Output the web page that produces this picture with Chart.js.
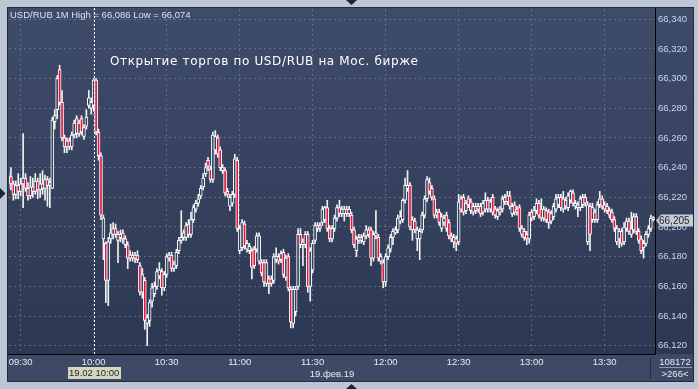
<!DOCTYPE html>
<html>
<head>
<meta charset="utf-8">
<script src="https://cdn.jsdelivr.net/npm/chart.js@4.4.0/dist/chart.umd.min.js"></script>
<style>
  html, body { margin: 0; padding: 0; background: #bcc6d5; overflow: hidden; }
  canvas { display: block; }
</style>
</head>
<body>
<canvas id="chart" width="698" height="389"></canvas>
<script>
// 1-minute candles, first one at 09:25 (minute -5 from 09:30)
const firstMinute = -5;

const opens = [
  66.230,66.234,66.229,66.222,66.228,66.224,66.229,66.233,66.226,66.221,
  66.227,66.224,66.231,66.225,66.229,66.226,66.232,66.228,66.226,66.271,
  66.279,66.306,66.284,66.260,66.254,66.258,66.254,66.262,66.273,66.263,
  66.273,66.261,66.268,66.282,66.280,66.282,66.299,66.264,66.248,66.192,
  66.189,66.164,66.192,66.195,66.199,66.191,66.193,66.196,66.188,66.188,
  66.179,66.181,66.179,66.181,66.174,66.156,66.164,66.135,66.137,66.150,
  66.155,66.160,66.167,66.170,66.159,66.168,66.179,66.181,66.172,66.174,
  66.184,66.191,66.193,66.193,66.202,66.195,66.205,66.212,66.216,66.221,
  66.227,66.236,66.245,66.239,66.232,66.252,66.260,66.252,66.238,66.238,
  66.224,66.214,66.216,66.222,66.245,66.184,66.186,66.202,66.185,66.184,
  66.184,66.185,66.185,66.177,66.176,66.176,66.162,66.165,66.165,66.164,
  66.178,66.180,66.178,66.183,66.166,66.180,66.158,66.135,66.143,66.160,
  66.195,66.188,66.188,66.195,66.160,66.171,66.191,66.199,66.201,66.203,
  66.205,66.213,66.199,66.192,66.199,66.206,66.213,66.209,66.209,66.212,
  66.209,66.208,66.198,66.184,66.191,66.193,66.190,66.194,66.198,66.198,
  66.179,66.194,66.193,66.177,66.176,66.163,66.180,66.185,66.193,66.196,
  66.198,66.204,66.205,66.218,66.226,66.228,66.198,66.204,66.192,66.192,
  66.198,66.208,66.219,66.230,66.226,66.219,66.208,66.210,66.199,66.203,
  66.208,66.203,66.194,66.190,66.192,66.190,66.212,66.220,66.211,66.219,
  66.217,66.210,66.214,66.212,66.214,66.210,66.212,66.218,66.212,66.220,
  66.212,66.207,66.212,66.212,66.220,66.217,66.221,66.209,66.215,66.212,
  66.213,66.195,66.197,66.195,66.192,66.210,66.207,66.211,66.216,66.212,
  66.206,66.211,66.210,66.204,66.207,66.212,66.215,66.220,66.212,66.218,
  66.213,66.218,66.223,66.214,66.213,66.213,66.215,66.220,66.190,66.214,
  66.205,66.210,66.205,66.215,66.219,66.212,66.214,66.211,66.210,66.205,
  66.190,66.192,66.197,66.190,66.199,66.204,66.195,66.198,66.207,66.197,
  66.192,66.186,66.189,66.195,66.199,66.205
];
const highs = [
  66.237,66.240,66.231,66.231,66.236,66.233,66.263,66.236,66.230,66.234,
  66.233,66.236,66.233,66.236,66.238,66.235,66.234,66.233,66.274,66.279,
  66.302,66.309,66.292,66.262,66.260,66.260,66.264,66.272,66.275,66.272,
  66.275,66.269,66.279,66.292,66.287,66.300,66.300,66.266,66.250,66.208,
  66.190,66.193,66.202,66.203,66.202,66.197,66.198,66.198,66.194,66.190,
  66.184,66.183,66.183,66.184,66.176,66.172,66.166,66.141,66.151,66.162,
  66.163,66.172,66.176,66.172,66.170,66.182,66.183,66.183,66.177,66.185,
  66.193,66.211,66.198,66.203,66.205,66.210,66.215,66.218,66.222,66.228,
  66.236,66.243,66.247,66.241,66.264,66.265,66.262,66.254,66.242,66.240,
  66.226,66.222,66.224,66.249,66.247,66.201,66.205,66.204,66.191,66.189,
  66.186,66.187,66.196,66.196,66.178,66.178,66.178,66.167,66.167,66.182,
  66.186,66.182,66.184,66.185,66.181,66.182,66.160,66.160,66.160,66.199,
  66.199,66.192,66.197,66.197,66.186,66.191,66.203,66.203,66.203,66.214,
  66.214,66.218,66.201,66.201,66.208,66.215,66.218,66.214,66.214,66.214,
  66.214,66.210,66.200,66.194,66.195,66.195,66.196,66.201,66.200,66.200,
  66.197,66.211,66.195,66.182,66.178,66.182,66.188,66.195,66.199,66.200,
  66.208,66.211,66.219,66.233,66.238,66.230,66.207,66.206,66.200,66.199,
  66.210,66.221,66.234,66.233,66.228,66.221,66.212,66.212,66.209,66.208,
  66.210,66.205,66.196,66.195,66.194,66.222,66.221,66.222,66.218,66.221,
  66.219,66.216,66.216,66.216,66.216,66.218,66.223,66.220,66.219,66.222,
  66.214,66.213,66.214,66.221,66.222,66.224,66.224,66.216,66.217,66.214,
  66.215,66.201,66.199,66.197,66.210,66.212,66.214,66.219,66.218,66.219,
  66.214,66.213,66.212,66.211,66.216,66.222,66.222,66.222,66.224,66.220,
  66.223,66.225,66.225,66.218,66.217,66.221,66.222,66.222,66.217,66.216,
  66.216,66.212,66.217,66.224,66.221,66.217,66.216,66.213,66.212,66.207,
  66.201,66.199,66.199,66.203,66.206,66.206,66.210,66.209,66.209,66.199,
  66.194,66.191,66.197,66.201,66.208,66.207
];
const lows = [
  66.226,66.225,66.218,66.219,66.219,66.221,66.213,66.224,66.218,66.219,
  66.220,66.222,66.219,66.220,66.222,66.218,66.214,66.213,66.226,66.266,
  66.273,66.282,66.258,66.250,66.250,66.252,66.252,66.260,66.260,66.261,
  66.262,66.259,66.266,66.280,66.276,66.278,66.262,66.245,66.205,66.178,
  66.149,66.147,66.189,66.192,66.193,66.176,66.190,66.189,66.186,66.172,
  66.177,66.177,66.176,66.176,66.154,66.152,66.131,66.120,66.133,66.146,
  66.153,66.158,66.165,66.154,66.157,66.166,66.177,66.170,66.170,66.172,
  66.182,66.189,66.191,66.191,66.193,66.193,66.203,66.210,66.214,66.219,
  66.225,66.234,66.238,66.230,66.230,66.249,66.247,66.238,66.236,66.221,
  66.220,66.211,66.214,66.220,66.197,66.182,66.184,66.185,66.183,66.182,
  66.165,66.172,66.183,66.175,66.167,66.160,66.160,66.155,66.160,66.162,
  66.176,66.175,66.176,66.166,66.164,66.157,66.132,66.132,66.140,66.158,
  66.186,66.174,66.186,66.156,66.150,66.169,66.189,66.197,66.197,66.201,
  66.203,66.197,66.190,66.190,66.197,66.204,66.207,66.207,66.204,66.207,
  66.207,66.196,66.186,66.180,66.189,66.189,66.188,66.192,66.193,66.174,
  66.177,66.192,66.177,66.175,66.159,66.160,66.178,66.183,66.188,66.195,
  66.196,66.202,66.203,66.216,66.224,66.198,66.191,66.196,66.184,66.178,
  66.196,66.206,66.217,66.222,66.218,66.206,66.206,66.201,66.197,66.201,
  66.197,66.192,66.190,66.186,66.184,66.188,66.210,66.208,66.209,66.213,
  66.209,66.208,66.209,66.210,66.207,66.208,66.210,66.210,66.210,66.208,
  66.206,66.205,66.208,66.210,66.215,66.215,66.212,66.207,66.208,66.208,
  66.197,66.193,66.191,66.188,66.189,66.204,66.205,66.209,66.206,66.204,
  66.204,66.203,66.199,66.202,66.205,66.210,66.213,66.211,66.210,66.212,
  66.211,66.216,66.214,66.212,66.207,66.211,66.213,66.214,66.188,66.184,
  66.203,66.203,66.203,66.213,66.212,66.210,66.209,66.206,66.203,66.197,
  66.188,66.186,66.187,66.188,66.197,66.195,66.193,66.196,66.195,66.189,
  66.182,66.179,66.187,66.193,66.197,66.204
];
const closes = [
  66.234,66.229,66.222,66.228,66.224,66.229,66.233,66.226,66.221,66.227,
  66.224,66.231,66.225,66.229,66.226,66.232,66.228,66.230,66.272,66.275,
  66.300,66.284,66.260,66.254,66.258,66.254,66.262,66.270,66.263,66.270,
  66.264,66.267,66.274,66.287,66.284,66.299,66.264,66.248,66.208,66.206,
  66.164,66.190,66.196,66.199,66.195,66.195,66.195,66.192,66.192,66.179,
  66.181,66.179,66.181,66.178,66.156,66.168,66.137,66.139,66.149,66.159,
  66.160,66.170,66.171,66.159,66.168,66.180,66.181,66.172,66.175,66.183,
  66.191,66.193,66.196,66.201,66.195,66.205,66.213,66.216,66.219,66.226,
  66.233,66.240,66.241,66.232,66.262,66.261,66.249,66.240,66.240,66.223,
  66.222,66.220,66.222,66.246,66.199,66.199,66.203,66.187,66.189,66.187,
  66.173,66.174,66.194,66.194,66.169,66.163,66.176,66.162,66.162,66.180,
  66.180,66.177,66.182,66.168,66.179,66.159,66.136,66.158,66.158,66.195,
  66.188,66.190,66.195,66.160,66.184,66.189,66.201,66.201,66.199,66.212,
  66.213,66.199,66.192,66.199,66.206,66.213,66.209,66.212,66.212,66.209,
  66.212,66.198,66.188,66.192,66.193,66.191,66.194,66.198,66.195,66.179,
  66.195,66.196,66.179,66.180,66.163,66.180,66.186,66.193,66.197,66.198,
  66.206,66.207,66.218,66.228,66.228,66.200,66.205,66.198,66.198,66.197,
  66.208,66.219,66.232,66.224,66.220,66.208,66.210,66.203,66.207,66.206,
  66.199,66.194,66.192,66.193,66.189,66.217,66.219,66.210,66.216,66.215,
  66.211,66.214,66.211,66.214,66.209,66.216,66.218,66.212,66.217,66.210,
  66.208,66.211,66.210,66.219,66.217,66.221,66.214,66.214,66.210,66.210,
  66.199,66.199,66.193,66.192,66.208,66.206,66.211,66.216,66.208,66.206,
  66.212,66.205,66.203,66.209,66.214,66.219,66.220,66.213,66.219,66.214,
  66.221,66.224,66.216,66.216,66.215,66.219,66.220,66.216,66.215,66.195,
  66.213,66.205,66.215,66.219,66.214,66.215,66.211,66.208,66.205,66.199,
  66.199,66.197,66.189,66.200,66.204,66.197,66.199,66.207,66.197,66.191,
  66.184,66.189,66.195,66.199,66.206,66.205
];

const yTicks = [66.12, 66.14, 66.16, 66.18, 66.20, 66.22, 66.24, 66.26, 66.28, 66.30, 66.32, 66.34];
const xTickMinutes = [0, 30, 60, 90, 120, 150, 180, 210, 240];
const xTickLabels = ['09:30', '10:00', '10:30', '11:00', '11:30', '12:00', '12:30', '13:00', '13:30'];

const titleText = 'USD/RUB 1M High = 66,086 Low = 66,074';
const noteText = 'Открытие торгов по USD/RUB на Мос. бирже';
const cursorMinute = 30;
const cursorLabel = '19.02 10:00';
const dateLabel = '19.фев.19';
const volumeLabel = '108172';
const countLabel = '>266<';

const minutes = opens.map((_, i) => firstMinute + i);
const fmt = v => v.toFixed(3).replace('.', ',');

const SMALL = '9.5px "Liberation Sans", Arial, sans-serif';

const framePlugin = {
  id: 'frame',
  beforeDraw(chart) {
    const ctx = chart.ctx;
    const a = chart.chartArea;
    ctx.save();
    ctx.fillStyle = '#bcc6d5';
    ctx.fillRect(0, 0, 698, 389);
    // main panel
    const g = ctx.createLinearGradient(0, 8, 0, a.bottom);
    g.addColorStop(0, '#3f4c69');
    g.addColorStop(1, '#2c3753');
    ctx.fillStyle = g;
    ctx.fillRect(8, 8, 685, a.bottom - 8);
    ctx.fillStyle = '#3d4965';
    ctx.fillRect(8, a.bottom, 685, 381 - a.bottom);
    ctx.strokeStyle = '#222b3e';
    ctx.lineWidth = 1;
    ctx.strokeRect(7.5, 7.5, 686, 374);
    // small frame arrows
    ctx.fillStyle = '#1c2434';
    ctx.beginPath(); ctx.moveTo(346, 0); ctx.lineTo(357, 0); ctx.lineTo(351.5, 5); ctx.fill();
    ctx.beginPath(); ctx.moveTo(0, 188); ctx.lineTo(0, 199); ctx.lineTo(5.5, 193.5); ctx.fill();
    ctx.beginPath(); ctx.moveTo(346, 389); ctx.lineTo(357, 389); ctx.lineTo(351.5, 384); ctx.fill();
    ctx.restore();
  },
  afterDatasetsDraw(chart) {
    const ctx = chart.ctx;
    const a = chart.chartArea;
    const x = Math.round(chart.scales.x.getPixelForValue(cursorMinute)) + 0.5;
    ctx.save();
    ctx.strokeStyle = '#ffffff';
    ctx.lineWidth = 1;
    ctx.setLineDash([2, 2]);
    ctx.beginPath(); ctx.moveTo(x, 8); ctx.lineTo(x, a.bottom); ctx.stroke();
    ctx.restore();
  },
  afterDraw(chart) {
    const ctx = chart.ctx;
    const a = chart.chartArea;
    const ys = chart.scales.y;
    const xs = chart.scales.x;
    ctx.save();
    // axis lines
    ctx.strokeStyle = '#000000';
    ctx.lineWidth = 1;
    ctx.beginPath();
    ctx.moveTo(a.right + 0.5, 8); ctx.lineTo(a.right + 0.5, a.bottom + 0.5);
    ctx.moveTo(8, a.bottom + 0.5); ctx.lineTo(a.right + 0.5, a.bottom + 0.5);
    ctx.stroke();
    ctx.strokeStyle = '#262e40';
    ctx.beginPath(); ctx.moveTo(650.5, 357); ctx.lineTo(650.5, 379); ctx.stroke();

    // title
    ctx.font = SMALL;
    ctx.fillStyle = '#dbe2ee';
    ctx.textBaseline = 'middle';
    ctx.textAlign = 'left';
    ctx.fillText(titleText, 10, 15);

    // annotation
    ctx.font = '12px "DejaVu Sans", sans-serif';
    const w = ctx.measureText(noteText).width;
    ctx.letterSpacing = ((308 - w) / (noteText.length - 1)).toFixed(2) + 'px';
    ctx.fillStyle = '#ffffff';
    ctx.fillText(noteText, 110, 62);
    ctx.letterSpacing = '0px';

    // current price box
    const last = closes[closes.length - 1];
    const py = Math.round(ys.getPixelForValue(last)) + 0.5;
    ctx.fillStyle = '#c6cbd4';
    ctx.strokeStyle = '#e8ecf2';
    ctx.beginPath();
    ctx.moveTo(a.right + 1, py);
    ctx.lineTo(a.right + 6, py - 6);
    ctx.lineTo(693, py - 6);
    ctx.lineTo(693, py + 6);
    ctx.lineTo(a.right + 6, py + 6);
    ctx.closePath();
    ctx.fill();
    ctx.font = '10px "Liberation Sans", Arial, sans-serif';
    ctx.fillStyle = '#1c2333';
    ctx.fillText(fmt(last), a.right + 4, py + 0.5);

    // cursor date box
    const cx = xs.getPixelForValue(cursorMinute);
    ctx.font = SMALL;
    ctx.fillStyle = '#d6d6bf';
    ctx.fillRect(Math.round(cx) - 26, 367, 53, 12);
    ctx.fillStyle = '#1c2333';
    ctx.textAlign = 'center';
    ctx.fillText(cursorLabel, cx + 0.5, 373.5);

    // date under axis
    ctx.fillStyle = '#e4eaf4';
    ctx.fillText(dateLabel, (a.left + a.right) / 2, 374);

    // bottom right counters
    ctx.fillText(volumeLabel, 675, 362);
    ctx.fillText(countLabel, 675, 374.5);
    ctx.strokeStyle = '#8b97ad';
    ctx.beginPath(); ctx.moveTo(659, 367.5); ctx.lineTo(692, 367.5); ctx.stroke();
    ctx.restore();
  }
};

const bodyColors = opens.map((o, i) => closes[i] < o ? '#e2163f' : '#35415e');

new Chart(document.getElementById('chart'), {
  type: 'bar',
  data: {
    datasets: [
      {
        label: 'wick',
        data: minutes.map((m, i) => ({ x: m, y: [lows[i], highs[i]] })),
        backgroundColor: '#f2f2f2',
        borderWidth: 0,
        barThickness: 1,
        grouped: false,
        order: 2
      },
      {
        label: 'body',
        data: minutes.map((m, i) => ({ x: m, y: [opens[i], closes[i]] })),
        backgroundColor: bodyColors,
        borderColor: '#ffffff',
        borderWidth: 1,
        borderSkipped: false,
        barThickness: 3,
        minBarLength: 2,
        grouped: false,
        order: 1
      }
    ]
  },
  options: {
    responsive: false,
    animation: false,
    devicePixelRatio: 1,
    layout: { padding: { left: 9, top: 9, right: 5, bottom: 8 } },
    plugins: { legend: { display: false }, tooltip: { enabled: false } },
    scales: {
      x: {
        type: 'linear',
        min: -4.8,
        max: 260.7,
        offset: false,
        afterBuildTicks: s => { s.ticks = xTickMinutes.map(v => ({ value: v })); },
        afterFit: s => { s.height = 27; },
        grid: { color: 'rgba(125,140,172,0.55)', lineWidth: 1, drawTicks: false, offset: false },
        border: { display: false, dash: [2, 3] },
        ticks: {
          padding: 3,
          color: '#e4eaf4',
          font: { family: '"Liberation Sans", Arial, sans-serif', size: 9.5 },
          maxRotation: 0,
          autoSkip: false,
          callback: v => xTickLabels[xTickMinutes.indexOf(v)]
        }
      },
      y: {
        position: 'right',
        min: 66.1144,
        max: 66.3469,
        afterBuildTicks: s => { s.ticks = yTicks.map(v => ({ value: v })); },
        afterFit: s => { s.width = 38; },
        grid: { color: 'rgba(125,140,172,0.55)', lineWidth: 1, drawTicks: false },
        border: { display: false, dash: [2, 3] },
        ticks: {
          padding: 3,
          color: '#c8d7ee',
          font: { family: '"Liberation Sans", Arial, sans-serif', size: 9.5 },
          autoSkip: false,
          callback: v => fmt(v)
        }
      }
    }
  },
  plugins: [framePlugin]
});
</script>
</body>
</html>
